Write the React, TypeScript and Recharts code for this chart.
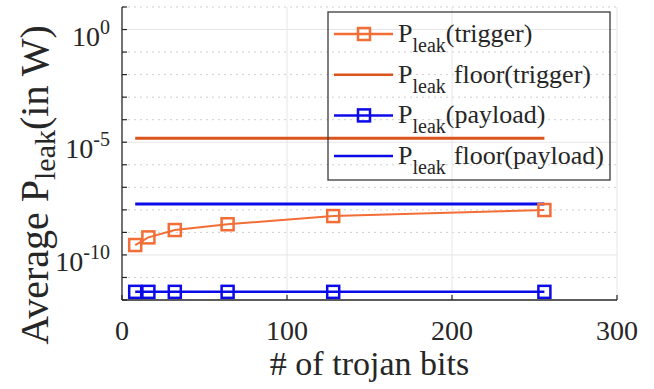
import { LineChart, Line, XAxis, YAxis, ReferenceLine, Legend } from 'recharts'

// trojan sizes (bits) and the measured average leakage power in W
const bits = [8, 16, 32, 64, 128, 256]
const triggerLeak = [2.75e-10, 6.0e-10, 1.27e-9, 2.3e-9, 5.3e-9, 9.8e-9]
const payloadLeak = [2.3e-12, 2.3e-12, 2.3e-12, 2.3e-12, 2.3e-12, 2.3e-12]
const triggerFloor = 1.5e-5
const payloadFloor = 1.8e-8

const xTicks = [0, 100, 200, 300]
const yTicks = [1e-12, 1e-11, 1e-10, 1e-9, 1e-8, 1e-7, 1e-6, 1e-5, 1e-4, 1e-3, 1e-2, 1e-1, 1, 10]
const majorY = [1, 1e-5, 1e-10]
const minorY = [10, 1e-1, 1e-2, 1e-3, 1e-4, 1e-6, 1e-7, 1e-8, 1e-9, 1e-11]
const majorX = [100, 200, 300]

const SERIF = { fontFamily: "'Liberation Serif', 'Times New Roman', Times, serif" }
const INK = '#262626'
const ORANGE = '#F36D36'
const DARK_ORANGE = '#D9541E'
const BLUE = '#0B0BE8'

const rows = bits.map((b, i) => ({ bits: b, trigger: triggerLeak[i], payload: payloadLeak[i] }))
const floorRow = (v: number) => [
	{ bits: bits[0], v },
	{ bits: bits[bits.length - 1], v },
]

const legendItems = [
	{ color: ORANGE, marker: true, text: '(trigger)', gap: 0 },
	{ color: DARK_ORANGE, marker: false, text: 'floor(trigger)', gap: 8 },
	{ color: BLUE, marker: true, text: '(payload)', gap: 0 },
	{ color: BLUE, marker: false, text: 'floor(payload)', gap: 8 },
]

const squareDot = (color: string) => (p: any) => (
	<rect
		key={`${p.index}`}
		x={p.cx - 6}
		y={p.cy - 6}
		width={12}
		height={12}
		fill="none"
		stroke={color}
		strokeWidth={2.5}
	/>
)

// left axis: inward tick every decade, label only on 10^0, 10^-5, 10^-10
const YTick = (props: any) => {
	const { x, y, payload } = props
	const exp = Math.round(Math.log10(payload.value))
	return (
		<g>
			<line x1={x} x2={x + 5} y1={y} y2={y} stroke={INK} strokeWidth={1.2} />
			{exp % 5 === 0 && (
				<text x={x - 12} y={y + 16} textAnchor="end" style={SERIF} fontSize={28} fill={INK}>
					10
					<tspan dy={-12} fontSize={20}>
						{exp === 0 ? '0' : `${exp}`}
					</tspan>
				</text>
			)}
		</g>
	)
}

const XTick = (props: any) => {
	const { x, y, payload } = props
	return (
		<g>
			<line x1={x} x2={x} y1={y} y2={y - 5} stroke={INK} strokeWidth={1.2} />
			<text x={x} y={y + 40} textAnchor="middle" style={SERIF} fontSize={28} fill={INK}>
				{payload.value}
			</text>
		</g>
	)
}

// transparent box, so grid and the floor line stay visible behind it
const LegendBox = () => (
	<svg width={284} height={170} style={{ display: 'block', overflow: 'visible' }}>
		<rect x={1} y={1} width={282} height={168} fill="none" stroke="#3a3a3a" strokeWidth={1.3} />
		{legendItems.map((it, i) => {
			const cy = 23 + i * 40.7
			return (
				<g key={i}>
					<line x1={7} x2={66} y1={cy} y2={cy} stroke={it.color} strokeWidth={2.5} />
					{it.marker && (
						<rect x={31} y={cy - 6} width={12} height={12} fill="none" stroke={it.color} strokeWidth={2.5} />
					)}
					<text x={71} y={cy + 8} style={SERIF} fontSize={26} fill={INK}>
						P
						<tspan dy={10} fontSize={20}>
							leak
						</tspan>
						<tspan dy={-10} dx={it.gap}>
							{it.text}
						</tspan>
					</text>
				</g>
			)
		})}
	</svg>
)

const YLabel = () => (
	<text
		x={48}
		y={185}
		transform="rotate(-90, 48, 185)"
		textAnchor="middle"
		style={SERIF}
		fontSize={40}
		fill={INK}
	>
		Average P
		<tspan dy={7} fontSize={30}>
			leak
		</tspan>
		<tspan dy={-7}>(in W)</tspan>
	</text>
)

const XLabel = (props: any) => {
	const vb = props.viewBox || { x: 122, width: 495 }
	return (
		<text x={vb.x + vb.width / 2} y={375} textAnchor="middle" style={SERIF} fontSize={34} fill={INK}>
			# of trojan bits
		</text>
	)
}

export default function App() {
	return (
		<div style={{ position: 'absolute', left: 0, top: 0, width: 654, height: 389, background: '#fff' }}>
			<LineChart width={654} height={389} data={rows} margin={{ top: 7, right: 37, bottom: 0, left: 0 }}>
				{minorY.map((v) => (
					<ReferenceLine key={`m${v}`} y={v} stroke="#cfcfcf" strokeDasharray="2 4" strokeWidth={1} />
				))}
				{majorY.map((v) => (
					<ReferenceLine key={`M${v}`} y={v} stroke="#e6e6e6" strokeWidth={1} />
				))}
				{majorX.map((v) => (
					<ReferenceLine key={`X${v}`} x={v} stroke="#e6e6e6" strokeWidth={1} />
				))}
				<Line
					data={floorRow(triggerFloor)}
					dataKey="v"
					stroke={DARK_ORANGE}
					strokeWidth={3}
					dot={false}
					isAnimationActive={false}
				/>
				<Line
					data={floorRow(payloadFloor)}
					dataKey="v"
					stroke={BLUE}
					strokeWidth={3}
					dot={false}
					isAnimationActive={false}
				/>
				<Line
					dataKey="trigger"
					stroke={ORANGE}
					strokeWidth={2}
					dot={squareDot(ORANGE)}
					isAnimationActive={false}
				/>
				<Line
					dataKey="payload"
					stroke={BLUE}
					strokeWidth={2.5}
					dot={squareDot(BLUE)}
					isAnimationActive={false}
				/>
				<XAxis
					type="number"
					dataKey="bits"
					domain={[0, 300]}
					ticks={xTicks}
					interval={0}
					tickSize={0}
					tickMargin={0}
					tickLine={false}
					tick={<XTick />}
					height={89}
					allowDataOverflow
					axisLine={{ stroke: INK, strokeWidth: 1.3 }}
					label={{ content: (p: any) => <XLabel {...p} /> }}
				/>
				<YAxis
					type="number"
					scale="log"
					domain={[1e-12, 10]}
					ticks={yTicks}
					interval={0}
					tickSize={0}
					tickMargin={0}
					tickLine={false}
					tick={<YTick />}
					width={122}
					allowDataOverflow
					axisLine={{ stroke: INK, strokeWidth: 1.3 }}
					label={{ content: () => <YLabel /> }}
				/>
				<Legend
					content={() => <LegendBox />}
					layout="vertical"
					align="center"
					verticalAlign="middle"
					wrapperStyle={{ left: 327, top: 11, width: 284, height: 170 }}
				/>
			</LineChart>
		</div>
	)
}
